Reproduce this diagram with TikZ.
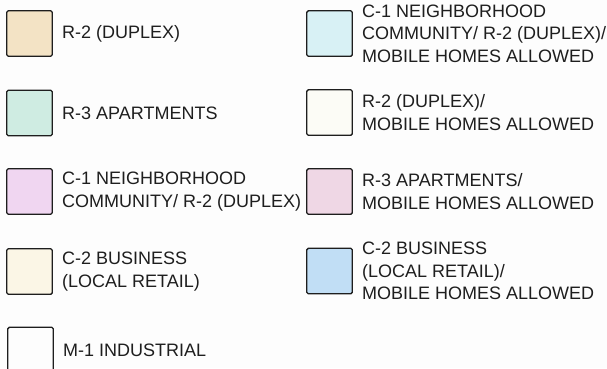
\documentclass[tikz,border=0pt]{standalone}
\usepackage{fontspec}
\setmainfont{Liberation Sans}
\usepackage{tikz}
\usetikzlibrary{positioning}
\usepackage{xcolor}
\definecolor{zpage}{RGB}{253,253,253}
\definecolor{zline}{RGB}{30,30,30}
\definecolor{zduplex}{RGB}{243,227,197}
\definecolor{zapart}{RGB}{207,236,226}
\definecolor{zneigh}{RGB}{240,214,241}
\definecolor{zbusiness}{RGB}{251,246,230}
\definecolor{zindustry}{RGB}{253,253,253}
\definecolor{zneighmob}{RGB}{216,241,245}
\definecolor{zduplexmob}{RGB}{252,252,246}
\definecolor{zapartmob}{RGB}{239,215,229}
\definecolor{zbusinessmob}{RGB}{193,222,245}
\tikzstyle{swatch} = [rectangle, rounded corners=1.5pt, minimum width=45.5pt, minimum height=45.5pt, draw=zline, line width=1.4pt]
\tikzstyle{zonetext} = [right=9pt of #1, inner sep=0pt, align=left, text=zline, font=\fontsize{18}{22.3}\selectfont]

\begin{document}
\begin{tikzpicture}[x=1pt, y=-1pt]
\clip (0,0) rectangle (607,368);
\fill[zpage] (0,0) rectangle (607,368);
% Left column
\node[swatch, fill=zduplex] (duplex) at (29.5, 33.5) {};
\node[zonetext=duplex] (duplextext) {R-2 (DUPLEX)};
\node[swatch, fill=zapart] (apart) at (29.5, 113) {};
\node[zonetext=apart] (aparttext) {R-3 APARTMENTS};
\node[swatch, fill=zneigh] (neigh) at (29.5, 191.5) {};
\node[zonetext=neigh] (neightext) {C-1 NEIGHBORHOOD\\COMMUNITY/ R-2 (DUPLEX)};
\node[swatch, fill=zbusiness] (business) at (29.5, 271.5) {};
\node[zonetext=business] (businesstext) {C-2 BUSINESS\\(LOCAL RETAIL)};
\node[swatch, fill=zindustry] (industry) at (30.5, 350) {};
\node[zonetext=industry] (industrytext) {M-1 INDUSTRIAL};

% Right column (mobile homes allowed)
\node[swatch, fill=zneighmob] (neighmob) at (329.5, 33.5) {};
\node[zonetext=neighmob] (neighmobtext) {C-1 NEIGHBORHOOD\\COMMUNITY/ R-2 (DUPLEX)/\\MOBILE HOMES ALLOWED};
\node[swatch, fill=zduplexmob] (duplexmob) at (329.5, 112.5) {};
\node[zonetext=duplexmob] (duplexmobtext) {R-2 (DUPLEX)/\\MOBILE HOMES ALLOWED};
\node[swatch, fill=zapartmob] (apartmob) at (329.5, 191.5) {};
\node[zonetext=apartmob] (apartmobtext) {R-3 APARTMENTS/\\MOBILE HOMES ALLOWED};
\node[swatch, fill=zbusinessmob] (businessmob) at (329.5, 271) {};
\node[zonetext=businessmob] (businessmobtext) {C-2 BUSINESS\\(LOCAL RETAIL)/\\MOBILE HOMES ALLOWED};
\end{tikzpicture}
\end{document}
